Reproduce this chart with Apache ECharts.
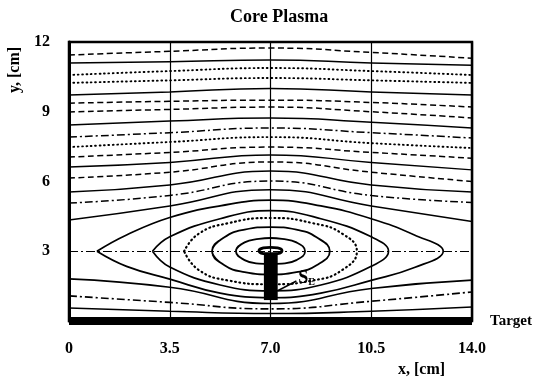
<!DOCTYPE html>
<html>
<head>
<meta charset="utf-8">
<script src="https://cdn.jsdelivr.net/npm/echarts@6/dist/echarts.min.js"></script>
<style>
  html, body { margin: 0; padding: 0; background: #fff; }
  #chart { width: 536px; height: 381px; }
</style>
</head>
<body>
<div id="chart"></div>
<script>
// axis ticks
const xTicks = [0, 3.5, 7, 10.5, 14];
const xTickLabels = ['0', '3.5', '7.0', '10.5', '14.0'];
const yTicks = [0, 3, 6, 9, 12];
const yTickLabels = ['', '3', '6', '9', '12'];
const centerY = 3;

// open contours, y read at x = 0, 3.5, 7, 10.5, 14
const contourXs = [0, 3.5, 7, 10.5, 14];
const upperContours = [
  [4.34, 4.95, 5.65, 4.95, 4.28],
  [5.07, 5.40, 6.02, 5.40, 5.10],
  [5.55, 5.85, 6.45, 5.85, 5.55],
  [6.15, 6.40, 6.84, 6.40, 6.00],
  [6.62, 6.82, 7.14, 6.82, 6.50],
  [7.05, 7.25, 7.48, 7.25, 7.00],
  [7.48, 7.70, 7.91, 7.65, 7.44],
  [7.91, 8.10, 8.30, 8.10, 7.87],
  [8.43, 8.60, 8.73, 8.55, 8.30],
  [8.99, 9.10, 9.20, 9.00, 8.73],
  [9.37, 9.45, 9.50, 9.40, 9.20],
  [9.72, 9.85, 10.00, 9.85, 9.72],
  [10.24, 10.35, 10.45, 10.35, 10.24],
  [10.58, 10.75, 10.88, 10.75, 10.58],
  [11.10, 11.15, 11.23, 11.10, 11.00],
  [11.44, 11.60, 11.74, 11.55, 11.30]
];
const upperStyles = ['solid', 'dashdot', 'solid', 'dashed', 'solid', 'dashed', 'dotted', 'dashdot',
  'solid', 'dashed', 'dashed', 'solid', 'dotted', 'dotted', 'solid', 'dashed'];
const lowerContours = [
  [1.81, 1.45, 0.75, 1.40, 1.76],
  [1.08, 0.80, 0.52, 0.85, 1.25],
  [0.56, 0.42, 0.32, 0.42, 0.60]
];
const lowerStyles = ['solid', 'dashdot', 'solid'];

// closed contours round the source
const capRing = [[6.6, 3.02], [6.75, 3.14], [7, 3.17], [7.25, 3.14], [7.4, 3.02], [7.25, 2.9], [7, 2.88], [6.75, 2.9]];
const ellipse2 = [[5.8, 3], [6.1, 3.38], [6.6, 3.53], [7, 3.57], [7.4, 3.53], [7.9, 3.38], [8.2, 3],
  [7.9, 2.62], [7.4, 2.47], [7, 2.45], [6.6, 2.47], [6.1, 2.62]];
const ellipse3 = [[4.97, 3], [5.4, 3.6], [6.1, 3.93], [7, 4.04], [7.9, 3.93], [8.6, 3.6], [9.06, 3],
  [8.6, 2.4], [7.9, 2.1], [7, 2.0], [6.1, 2.1], [5.4, 2.4]];
const ellipse4 = [[4.0, 3], [4.5, 3.75], [5.5, 4.2], [7, 4.43], [8.5, 4.2], [9.5, 3.75], [10.0, 3],
  [9.5, 2.2], [8.5, 1.75], [7, 1.58], [5.5, 1.75], [4.5, 2.2], [4.0, 3]];
const lens5 = [[2.9, 3], [3.5, 3.62], [5.25, 4.4], [7, 4.75], [8.75, 4.4], [10.5, 3.62], [11.1, 3],
  [10.5, 2.35], [8.75, 1.55], [7, 1.3], [5.25, 1.55], [3.5, 2.32], [2.9, 3]];
const lens6 = [[0.97, 3], [2.0, 3.7], [3.5, 4.45], [5.25, 4.95], [7, 5.2], [8.75, 4.95], [10.5, 4.4],
  [12.0, 3.7], [13.0, 3], [12.0, 2.3], [10.5, 1.75], [8.75, 1.2], [7, 1.0], [5.25, 1.2], [3.5, 1.8],
  [2.0, 2.35], [0.97, 3]];

// source S_E
const sourceBox = [[6.77, 0.9], [7.25, 2.95]];
const seLeader = [[7.25, 1.3], [7.9, 1.72]];
const seLabelAt = [7.95, 1.85];

const serif = '"Liberation Serif", "DejaVu Serif", serif';
const dashes = { solid: 'solid', dotted: [0.8, 3.6], dashed: [6, 3.5], dashdot: [8, 3, 2, 3] };

function loop(pts) {
  // wrap round so the smoothed curve closes without a corner
  const n = pts.length;
  return [pts[n - 1]].concat(pts, [pts[0], pts[1]]);
}

function contour(data, style, width, smooth) {
  return {
    type: 'line',
    data: data,
    smooth: smooth == null ? 0.5 : smooth,
    symbol: 'none',
    silent: true,
    animation: false,
    lineStyle: {
      color: '#000',
      width: width || 1.5,
      type: dashes[style],
      cap: style === 'dotted' ? 'round' : 'butt'
    }
  };
}

const series = [];
upperContours.forEach((ys, i) => {
  series.push(contour(contourXs.map((x, k) => [x, ys[k]]), upperStyles[i], upperStyles[i] === 'dotted' ? 1.9 : 1.5));
});
lowerContours.forEach((ys, i) => {
  series.push(contour(contourXs.map((x, k) => [x, ys[k]]), lowerStyles[i], 1.6));
});
series.push(contour(lens6, 'solid', 1.7, 0.45));
series.push(contour(lens5, 'solid', 1.7, 0.45));
series.push(contour(ellipse4, 'dotted', 2.2, 0.5));
series.push(contour(loop(ellipse3), 'solid', 1.8));
series.push(contour(loop(ellipse2), 'solid', 1.8));

// source, its leader and the centre line
const leader = contour(seLeader, 'solid', 1.5, 0);
leader.markArea = {
  silent: true,
  itemStyle: { color: '#000', opacity: 1 },
  data: [[{ coord: sourceBox[0] }, { coord: sourceBox[1] }]]
};
leader.markLine = {
  silent: true,
  symbol: ['none', 'none'],
  label: { show: false },
  lineStyle: { color: '#000', width: 1, type: [9, 3, 2, 3] },
  data: [{ yAxis: centerY }]
};
series.push(leader);
series.push(contour(loop(capRing), 'solid', 2.8));
series.push({
  type: 'scatter',
  data: [seLabelAt],
  symbolSize: 1,
  silent: true,
  animation: false,
  z: 10,
  itemStyle: { color: 'rgba(0,0,0,0)' },
  label: {
    show: true,
    position: 'right',
    distance: 0,
    opacity: 1,
    color: '#000',
    formatter: '{s|S}{e|E}',
    rich: {
      s: { fontFamily: serif, fontWeight: 'bold', fontSize: 18, color: '#000' },
      e: { fontFamily: serif, fontWeight: 'bold', fontSize: 10, color: '#000', padding: [9, 0, 0, 0] }
    }
  }
});

const chart = echarts.init(document.getElementById('chart'), null, { renderer: 'canvas' });
chart.setOption({
  animation: false,
  backgroundColor: '#fff',
  title: [
    { text: 'Core Plasma', left: 230, top: 8, padding: 0,
      textStyle: { fontFamily: serif, fontWeight: 'bold', fontSize: 18, color: '#000' } },
    { text: 'x, [cm]', left: 398, top: 362, padding: 0,
      textStyle: { fontFamily: serif, fontWeight: 'bold', fontSize: 16, color: '#000' } }
  ],
  graphic: [{
    type: 'text',
    x: 15,
    y: 70,
    rotation: Math.PI / 2,
    style: {
      text: 'y, [cm]',
      font: 'bold 16px ' + serif,
      fill: '#000',
      align: 'center',
      verticalAlign: 'middle',
      textAlign: 'center',
      textVerticalAlign: 'middle'
    }
  }],
  grid: { left: 69, right: 64, top: 42, bottom: 60, show: true, borderColor: '#000', borderWidth: 2.5 },
  xAxis: {
    type: 'value',
    min: 0,
    max: 14,
    interval: 3.5,
    name: 'Target',
    nameLocation: 'end',
    nameGap: 18,
    nameTextStyle: { fontFamily: serif, fontWeight: 'bold', fontSize: 15, color: '#000', verticalAlign: 'middle' },
    axisLine: { show: true, onZero: false, lineStyle: { color: '#000', width: 8, cap: 'butt' } },
    axisTick: { show: false },
    splitLine: { show: true, lineStyle: { color: '#000', width: 1.2 } },
    axisLabel: {
      margin: 20,
      color: '#000',
      fontFamily: serif,
      fontWeight: 'bold',
      fontSize: 16,
      formatter: v => xTickLabels[xTicks.indexOf(v)]
    }
  },
  yAxis: {
    type: 'value',
    min: 0,
    max: 12,
    interval: 3,
    axisLine: { show: true, lineStyle: { color: '#000', width: 3 } },
    axisTick: { show: false },
    splitLine: { show: false },
    axisLabel: {
      margin: 19,
      color: '#000',
      fontFamily: serif,
      fontWeight: 'bold',
      fontSize: 16,
      formatter: v => yTickLabels[yTicks.indexOf(v)]
    }
  },
  series: series
});
</script>
</body>
</html>
